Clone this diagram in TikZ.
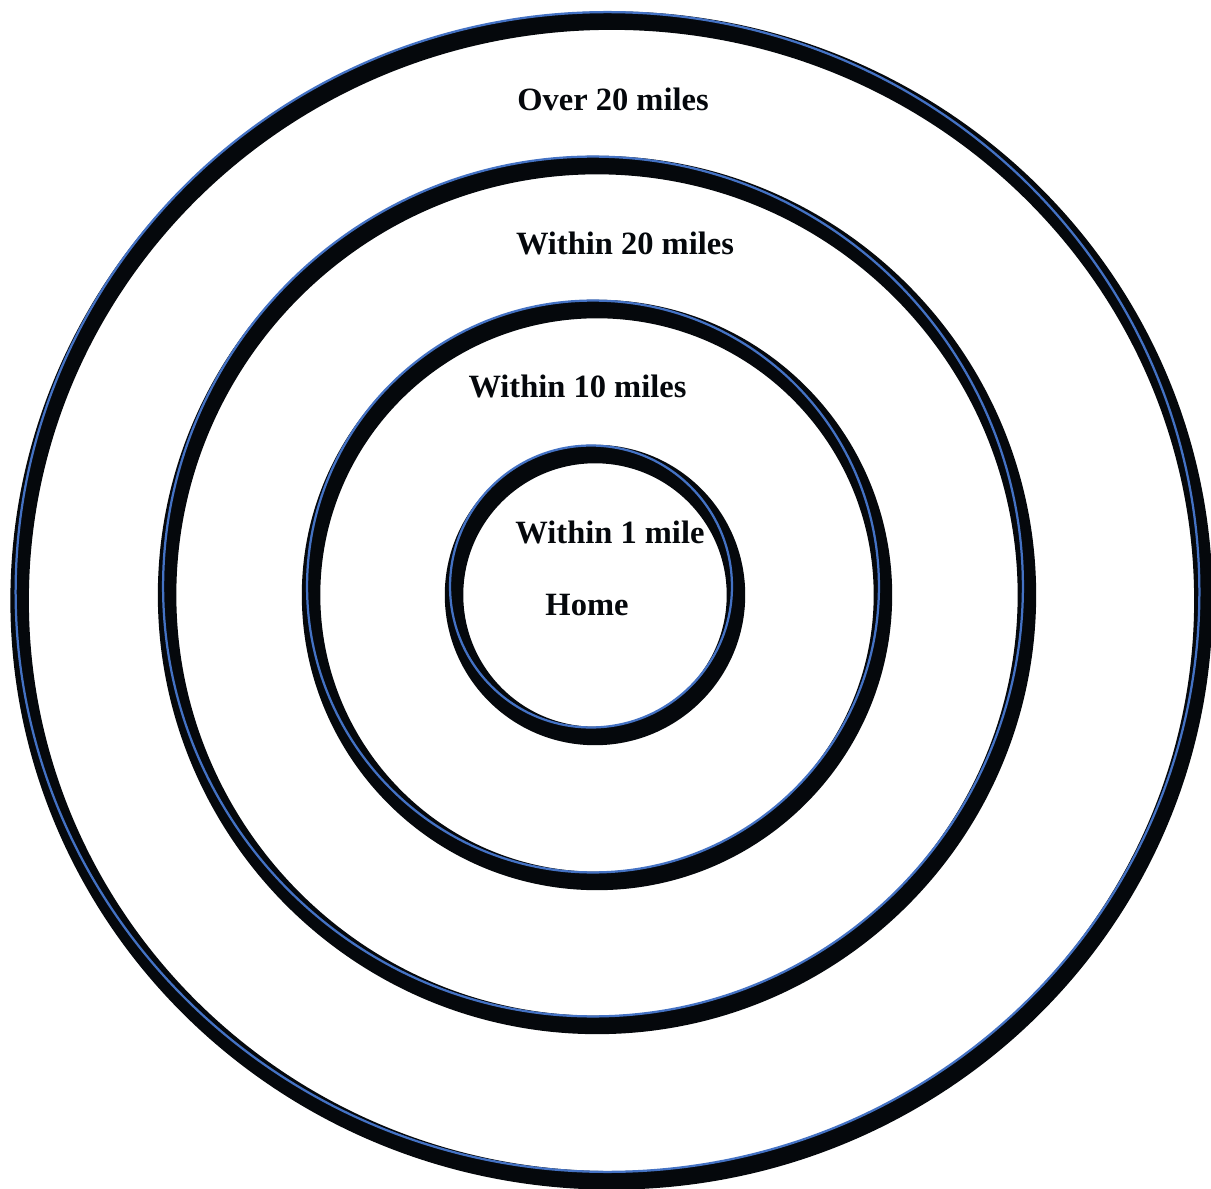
\documentclass[tikz,border=0pt]{standalone}
\usepackage{fontspec}
\setmainfont{Liberation Serif}
\definecolor{ringblue}{RGB}{68,114,196}
\definecolor{ringdark}{RGB}{5,8,12}
\begin{document}
\begin{tikzpicture}[x=0.02cm,y=-0.02cm,
  ringband/.style={draw=ringdark,line width=0.37cm},
  ringline/.style={draw=ringblue,line width=0.045cm},
  lab/.style={font=\bfseries\fontsize{18.5}{22}\selectfont,inner sep=0pt,text=ringdark}]
\useasboundingbox (0,0) rectangle (1211,1189);
\fill[white] (0,0) rectangle (1211,1189);
% outer ring
\draw[ringband] (611.5,600.5) ellipse [x radius=11.84cm, y radius=11.6cm];
\draw[ringline] (607.5,592) ellipse [x radius=11.84cm, y radius=11.6cm];
% ring 2
\draw[ringband] (597,595) circle [radius=8.6cm];
\draw[ringline] (593,586.5) circle [radius=8.6cm];
% ring 3
\draw[ringband] (597,595) circle [radius=5.72cm];
\draw[ringline] (593,586.5) circle [radius=5.72cm];
% inner ring
\draw[ringband] (595,595) circle [radius=2.82cm];
\draw[ringline] (591,586.5) circle [radius=2.82cm];
% labels
\node[lab] (over20) at (613,99) {Over 20 miles};
\node[lab] (within20) at (625,243) {Within 20 miles};
\node[lab] (within10) at (577.5,386) {Within 10 miles};
\node[lab] (within1) at (610,532) {Within 1 mile};
\node[lab] (home) at (587,605) {Home};
\end{tikzpicture}
\end{document}
